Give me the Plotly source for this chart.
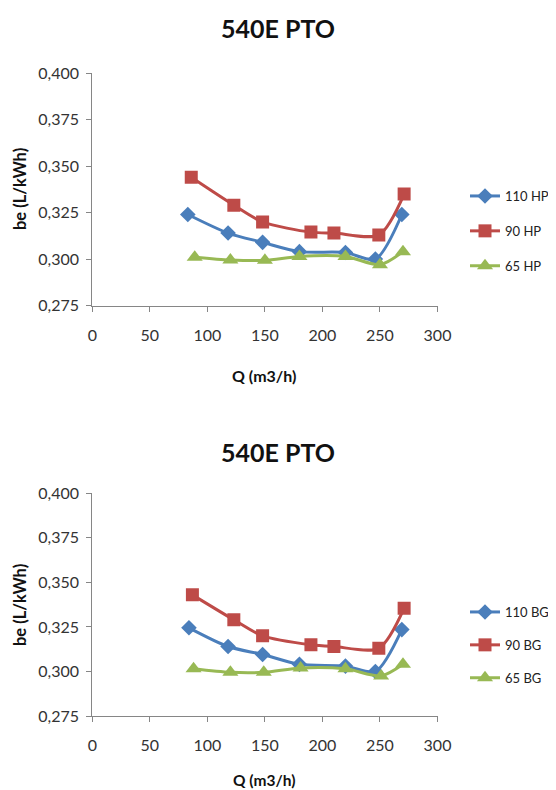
import plotly.graph_objects as go

# ---- data ----
title_text = "540E PTO"
x_title = "Q (m3/h)"
y_title = "be (L/kWh)"

top_names = ["110 HP", "90 HP", "65 HP"]
top_x_110 = [83, 118, 148, 180, 220, 246, 269]
top_y_110 = [0.324, 0.314, 0.309, 0.304, 0.3035, 0.300, 0.324]
top_x_90 = [86, 123, 148, 190, 210, 249, 271]
top_y_90 = [0.344, 0.329, 0.320, 0.3145, 0.314, 0.313, 0.335]
top_x_65 = [89, 120, 150, 180, 220, 250, 270]
top_y_65 = [0.301, 0.2995, 0.2993, 0.3014, 0.3014, 0.297, 0.304]

bot_names = ["110 BG", "90 BG", "65 BG"]
bot_x_110 = [84, 118, 148, 180, 220, 246, 269]
bot_y_110 = [0.3245, 0.314, 0.3095, 0.304, 0.303, 0.300, 0.3235]
bot_x_90 = [87, 123, 148, 190, 210, 249, 271]
bot_y_90 = [0.343, 0.329, 0.320, 0.315, 0.314, 0.313, 0.3355]
bot_x_65 = [88, 120, 149, 181, 220, 251, 270]
bot_y_65 = [0.3015, 0.2995, 0.2995, 0.302, 0.3015, 0.2975, 0.304]

y_ticks = [0.275, 0.300, 0.325, 0.350, 0.375, 0.400]
x_ticks = [0, 50, 100, 150, 200, 250, 300]

# ---- style ----
# the page body has an 8px margin, so the figure is drawn 8px in from the window corner
OFF = 8
W, H = 556 - 2 * OFF, 790 - OFF
FONT = "Lato"
colors = ["#4A7EBB", "#BE4B48", "#98B954"]
symbols = ["diamond", "square", "triangle-up"]
msizes = [12, 13, 14]
AXCOL = "#868686"


def py(screen_px):
    return 1 - (screen_px - OFF) / H


def px_x(screen_px):
    return (screen_px - OFF) / W


fig = go.Figure()

top_series = [(top_x_110, top_y_110), (top_x_90, top_y_90), (top_x_65, top_y_65)]
bot_series = [(bot_x_110, bot_y_110), (bot_x_90, bot_y_90), (bot_x_65, bot_y_65)]

for i, (xs, ys) in enumerate(top_series):
    fig.add_trace(go.Scatter(
        x=xs, y=ys, name=top_names[i], mode="lines+markers",
        line=dict(color=colors[i], width=3, shape="spline", smoothing=0.8),
        marker=dict(symbol=symbols[i], size=msizes[i], color=colors[i]),
        xaxis="x", yaxis="y", legend="legend", legendgroup="t%d" % i,
    ))

for i, (xs, ys) in enumerate(bot_series):
    fig.add_trace(go.Scatter(
        x=xs, y=ys, name=bot_names[i], mode="lines+markers",
        line=dict(color=colors[i], width=3, shape="spline", smoothing=0.8),
        marker=dict(symbol=symbols[i], size=msizes[i], color=colors[i]),
        xaxis="x2", yaxis="y2", legend="legend2", legendgroup="b%d" % i,
    ))

xdom = [px_x(92.3), px_x(437.5)]

common_x = dict(
    range=[0, 300], tickvals=x_ticks, showgrid=False, zeroline=False,
    showline=True, linecolor=AXCOL, linewidth=1, ticks="outside",
    ticklen=5, tickcolor=AXCOL, tickfont=dict(family=FONT, size=16, color="#333333"),
    ticklabelstandoff=10, fixedrange=True, automargin=False,
)
common_y = dict(
    range=[0.275, 0.400], tickvals=y_ticks, tickformat=".3f", showgrid=False,
    zeroline=False, showline=True, linecolor=AXCOL, linewidth=1, ticks="outside",
    ticklen=5, tickcolor=AXCOL, tickfont=dict(family=FONT, size=16, color="#333333"),
    ticklabelstandoff=4, fixedrange=True, automargin=False,
)

legend_common = dict(
    font=dict(family=FONT, size=13, color="#222222"),
    bgcolor="rgba(0,0,0,0)", xanchor="left", yanchor="top",
    itemclick=False, itemdoubleclick=False,
)

fig.update_layout(
    width=W, height=H,
    margin=dict(l=0, r=0, t=0, b=0, pad=0, autoexpand=False),
    paper_bgcolor="white", plot_bgcolor="white",
    separators=",.",
    showlegend=True,
    xaxis=dict(domain=xdom, anchor="y", **common_x),
    yaxis=dict(domain=[py(305.5), py(73.3)], anchor="x", **common_y),
    xaxis2=dict(domain=xdom, anchor="y2", **common_x),
    yaxis2=dict(domain=[py(716), py(493.3)], anchor="x2", **common_y),
    legend=dict(x=px_x(465), y=py(181), tracegroupgap=15, **legend_common),
    legend2=dict(x=px_x(465), y=py(597), tracegroupgap=13, **legend_common),
)

annots = [
    dict(text="<b>%s</b>" % title_text, x=px_x(278), y=py(28), size=25),
    dict(text="<b>%s</b>" % title_text, x=px_x(278), y=py(452), size=25),
    dict(text="<b>%s</b>" % x_title, x=px_x(264), y=py(375), size=16),
    dict(text="<b>%s</b>" % x_title, x=px_x(264), y=py(780), size=15.5),
]
for a in annots:
    fig.add_annotation(
        text=a["text"], x=a["x"], y=a["y"], xref="paper", yref="paper",
        xanchor="center", yanchor="middle", showarrow=False,
        font=dict(family=FONT, size=a["size"], color="#111111"),
    )
for yc in [189, 605]:
    fig.add_annotation(
        text="<b>%s</b>" % y_title, x=px_x(20), y=py(yc), xref="paper", yref="paper",
        xanchor="center", yanchor="middle", showarrow=False, textangle=-90,
        font=dict(family=FONT, size=16.5, color="#111111"),
    )

fig.write_html("out.html", config={"displayModeBar": False})
